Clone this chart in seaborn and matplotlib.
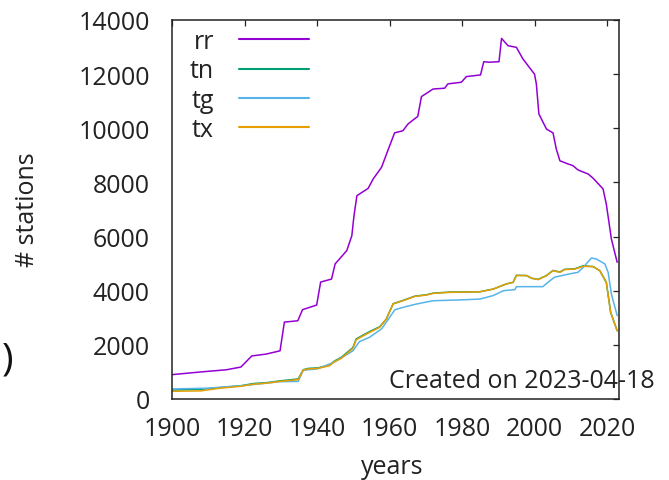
import matplotlib
matplotlib.use("Agg")
import matplotlib.pyplot as plt
import seaborn as sns
import pandas as pd

rr_years = [1900, 1908, 1915, 1919, 1922, 1926, 1929.8, 1931, 1934.7, 1936, 1939.9, 1941, 1944, 1945,
            1948.2, 1949.6, 1950.2, 1951, 1954.1, 1955.5, 1957.8, 1959.7, 1961.4, 1963.7, 1965.1, 1967.8,
            1968.8, 1972, 1975.2, 1976.1, 1979.8, 1981.2, 1985.1, 1986, 1987.6, 1990.2, 1990.9, 1992.7,
            1995, 1996.8, 2000, 2000.5, 2001.2, 2003.3, 2005.1, 2006, 2007, 2009.3, 2010.6, 2012,
            2014.8, 2016.2, 2018.9, 2019.8, 2021.2, 2022.8]
rr_values = [900, 1000, 1080, 1180, 1590, 1660, 1780, 2840, 2890, 3300, 3470, 4320, 4430, 4990,
             5480, 6030, 6770, 7510, 7780, 8130, 8560, 9235, 9830, 9910, 10160, 10440,
             11170, 11450, 11480, 11640, 11700, 11910, 11970, 12460, 12440, 12460, 13320, 13050,
             12990, 12560, 12000, 11640, 10530, 9970, 9830, 9235, 8800, 8680, 8620, 8460,
             8310, 8150, 7760, 7200, 5910, 5050]

t_years = [1900, 1908, 1913, 1919, 1922.4, 1926.5, 1929.7, 1934.8, 1936.2, 1937.5, 1940.3, 1943.5,
           1944.9, 1946.7, 1949.9, 1950.8, 1954.5, 1957.3, 1959.1, 1961, 1963.7, 1967, 1970.2, 1972,
           1976.6, 1984.9, 1988.6, 1992.2, 1994.1, 1995, 1997.8, 1999.2, 2001, 2003.3, 2005.1, 2007,
           2008.3, 2011.1, 2013.4, 2016.2, 2018, 2019.8, 2021, 2022.8]
tx_values = [285, 300, 395, 470, 545, 590, 650, 715, 1070, 1110, 1130, 1230,
             1390, 1500, 1870, 2190, 2460, 2650, 2950, 3510, 3630, 3790, 3840, 3900,
             3940, 3960, 4060, 4250, 4310, 4560, 4560, 4460, 4410, 4560, 4740, 4680,
             4780, 4800, 4900, 4890, 4740, 4310, 3200, 2520]
tn_values = [330, 360, 420, 490, 570, 610, 670, 740, 1080, 1130, 1150, 1260,
             1410, 1540, 1900, 2220, 2490, 2670, 2950, 3520, 3640, 3800, 3850, 3910,
             3950, 3960, 4060, 4250, 4310, 4570, 4560, 4460, 4420, 4560, 4750, 4690,
             4790, 4810, 4920, 4890, 4740, 4310, 3200, 2520]

tg_years = [1900, 1910, 1920, 1929.7, 1934.8, 1936.2, 1940.3, 1944.9, 1949.9, 1951.7, 1954.5, 1957.8,
            1959.7, 1961.5, 1964.7, 1967.5, 1972, 1979.4, 1984.9, 1988.6, 1991.4, 1994.6, 1995,
            2002.3, 2003.7, 2005.5, 2009.6, 2012, 2013.4, 2015.7, 2017.1, 2019.4, 2020.3, 2021.2, 2022.8]
tg_values = [370, 400, 500, 640, 650, 1060, 1120, 1370, 1780, 2120, 2280, 2590,
             2950, 3300, 3420, 3510, 3630, 3660, 3690, 3820, 4000, 4040, 4150,
             4150, 4310, 4500, 4620, 4680, 4860, 5210, 5170, 4990, 4680, 3880, 3080]

series_names = ["rr", "tn", "tg", "tx"]
colors = {"rr": "#9400D3", "tn": "#009E73", "tg": "#56B4E9", "tx": "#E69F00"}
x_ticks = [1900, 1920, 1940, 1960, 1980, 2000, 2020]
y_ticks = [0, 2000, 4000, 6000, 8000, 10000, 12000, 14000]

df = pd.concat([
    pd.DataFrame({"year": rr_years, "n": rr_values, "var": "rr"}),
    pd.DataFrame({"year": t_years, "n": tn_values, "var": "tn"}),
    pd.DataFrame({"year": tg_years, "n": tg_values, "var": "tg"}),
    pd.DataFrame({"year": t_years, "n": tx_values, "var": "tx"}),
])

sns.set_style("white")
FONT = ["Open Sans", "DejaVu Sans"]
plt.rcParams["font.family"] = FONT
FS = 18

fig = plt.figure(figsize=(6.69, 4.81), dpi=100)
ax = fig.add_axes([172 / 669, 81 / 481, 447 / 669, 379 / 481])

for name in series_names:
    sub = df[df["var"] == name]
    sns.lineplot(data=sub, x="year", y="n", ax=ax, color=colors[name], lw=1.1,
                 label=name, sort=False, estimator=None)

ax.set_xlim(1900, 2023.3)
ax.set_ylim(0, 14000)
ax.set_xticks(x_ticks)
ax.set_yticks(y_ticks)
ax.set_xticklabels([str(t) for t in x_ticks])
ax.set_yticklabels([str(t) for t in y_ticks])
ax.tick_params(axis="both", direction="in", top=True, right=True, length=4.5, width=0.9,
               labelsize=FS, colors="#222222", labelcolor="#222222")
ax.tick_params(axis="y", pad=16)
ax.tick_params(axis="x", pad=12)
for s in ax.spines.values():
    s.set_color("#222222")
    s.set_linewidth(1.1)
ax.set_xlabel("")
ax.set_ylabel("")

leg = ax.legend(loc="upper left", bbox_to_anchor=(190 / 669, 1 - 30 / 481), bbox_transform=fig.transFigure,
                frameon=False, markerfirst=False, fontsize=FS, handlelength=2.8, handletextpad=1.0,
                labelspacing=0.17, borderpad=0, borderaxespad=0)
for line in leg.get_lines():
    line.set_linewidth(1.5)
for t in leg.get_texts():
    t.set_color("#222222")

fig.text(392 / 669, 1 - 468 / 481, "years", ha="center", va="center", fontsize=FS, color="#222222")
fig.text(28 / 669, 1 - 210 / 481, "# stations", ha="center", va="center", rotation=90,
         fontsize=FS, color="#222222")
fig.text(389 / 669, 1 - 388 / 481, "Created on 2023-04-18", ha="left", va="baseline",
         fontsize=FS, color="#222222")
fig.text(8 / 669, 1 - 360 / 481, ")", ha="center", va="center", fontsize=28, color="#111111")

fig.savefig("out.png", dpi=100)
